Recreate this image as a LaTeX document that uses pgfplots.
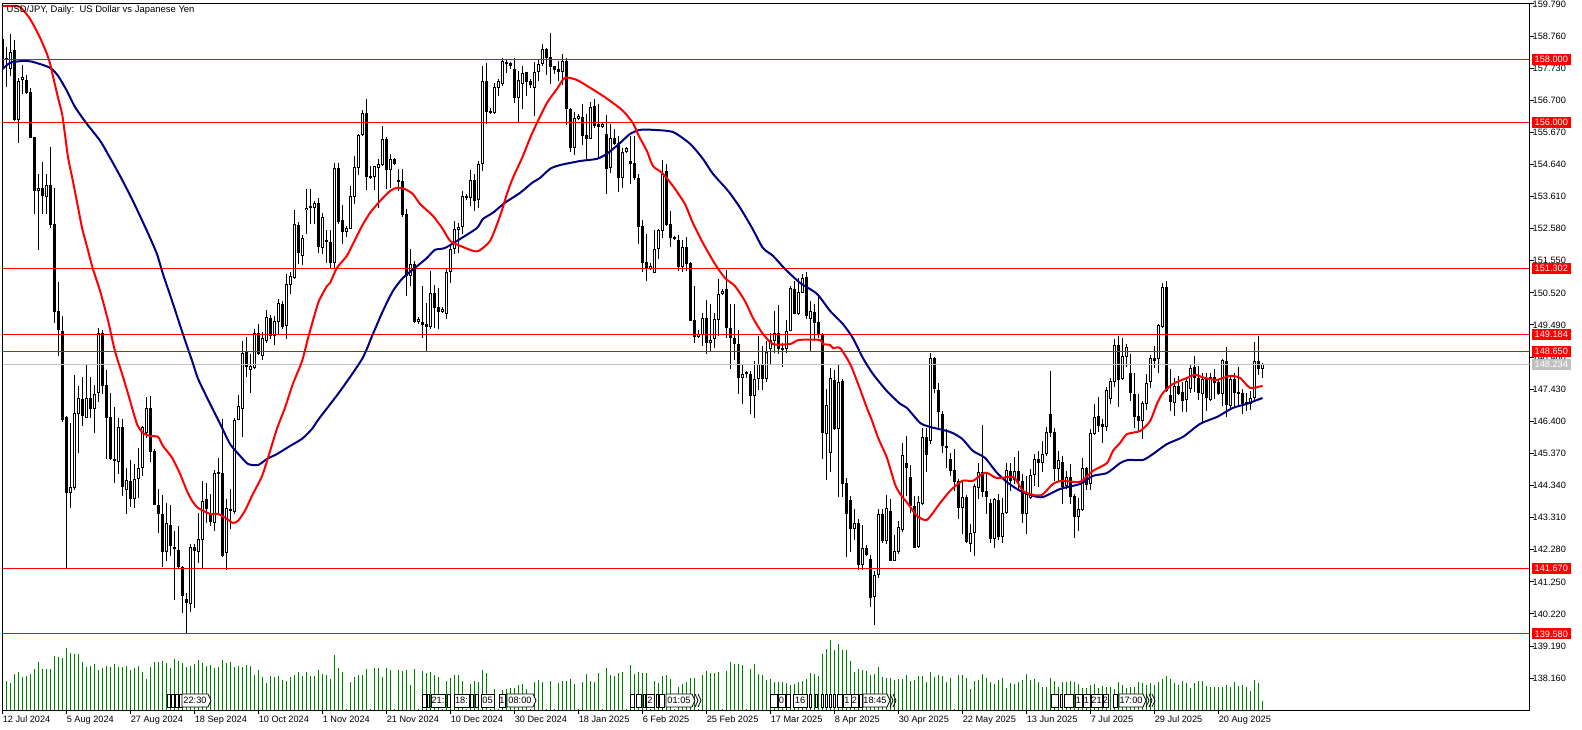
\documentclass[border=0pt]{standalone}
\usepackage{fontspec}
\setmainfont{Liberation Sans}
\usepackage{pgfplots}
\usepackage{pgfplotstable}
\pgfplotsset{compat=1.18}
\definecolor{mt}{RGB}{255,0,0}
\definecolor{mnavy}{RGB}{0,0,128}
\definecolor{mvol}{RGB}{0,128,0}
\definecolor{msilver}{RGB}{192,192,192}
\definecolor{mpink}{RGB}{255,200,200}
\newcommand\chartfont{\fontsize{6.9pt}{8pt}\selectfont}
\pgfplotstableread{
k o h l c v
0 158.67 158.73 157.64 157.70 25
1 158.06 158.41 157.13 157.99 29
2 157.70 158.83 157.48 158.25 27
3 158.31 158.63 156.04 156.07 36
4 156.07 157.42 155.33 157.32 38
5 157.35 157.83 156.90 157.45 33
6 157.35 157.51 156.90 156.93 34
7 156.97 157.10 155.49 155.49 36
8 155.52 155.52 153.05 153.79 41
9 153.79 154.34 151.90 153.89 48
10 153.89 154.72 153.05 153.63 41
11 153.60 154.34 153.05 153.98 41
12 153.98 155.20 152.60 152.70 41
13 152.73 153.89 149.56 149.91 54
14 149.94 150.87 148.50 149.33 53
15 149.30 149.78 146.38 146.44 52
16 146.54 146.57 141.66 144.10 62
17 144.10 146.35 143.62 144.29 57
18 144.26 147.89 144.20 146.67 56
19 146.64 147.54 145.39 147.15 56
20 147.12 147.82 146.25 146.57 48
21 146.51 148.21 146.51 147.15 43
22 147.15 147.82 146.51 146.80 44
23 146.80 147.57 146.03 147.28 46
24 147.31 149.40 147.02 149.24 40
25 149.24 149.33 147.28 147.54 42
26 147.57 148.05 145.19 146.51 44
27 146.54 147.31 145.16 145.19 43
28 145.19 146.86 144.42 145.13 46
29 145.10 146.51 144.71 146.22 43
30 146.22 146.48 144.01 144.29 43
31 144.20 144.90 143.43 144.52 44
32 144.49 145.16 143.65 143.91 40
33 143.91 145.03 143.62 144.55 42
34 144.55 145.55 143.94 144.90 44
35 144.90 146.25 144.65 146.22 38
36 146.03 147.18 145.87 146.83 31
37 146.83 147.21 145.10 145.42 43
38 145.45 145.51 143.72 143.72 48
39 143.72 144.23 142.82 143.43 48
40 143.43 144.04 141.73 142.21 49
41 142.21 143.78 141.92 143.14 47
42 143.08 143.72 142.08 142.40 42
43 142.37 142.88 140.67 142.31 51
44 142.27 143.04 141.70 141.73 49
45 141.73 141.76 140.25 140.80 47
46 140.70 140.89 139.58 140.57 43
47 140.54 142.47 140.29 142.37 44
48 142.37 142.47 140.41 142.24 46
49 142.21 143.46 141.86 142.63 50
50 142.60 144.49 141.70 143.85 47
51 143.91 144.42 143.14 143.59 44
52 143.46 144.07 143.04 143.17 45
53 143.14 144.84 142.88 144.75 42
54 144.78 145.23 143.43 144.71 43
55 144.75 146.48 142.05 142.08 50
56 142.18 143.91 141.63 143.62 47
57 143.59 144.23 142.95 143.53 48
58 143.49 146.51 143.43 146.44 43
59 146.44 147.25 146.44 146.89 44
60 146.80 148.98 145.90 148.59 43
61 148.66 149.11 147.82 148.15 45
62 148.05 148.56 147.31 148.18 44
63 148.11 149.36 148.08 149.24 35
64 149.24 149.52 148.53 148.56 40
65 148.50 149.27 148.37 149.08 33
66 148.98 149.97 148.91 149.75 27
67 149.72 149.81 149.04 149.14 34
68 149.14 149.78 148.85 149.62 33
69 149.59 150.33 149.20 150.20 34
70 150.17 150.26 149.36 149.43 30
71 149.46 151.13 149.04 150.81 29
72 150.78 151.19 150.49 151.06 33
73 151.00 153.18 150.97 152.73 35
74 152.70 152.80 151.45 151.80 38
75 151.71 152.38 151.42 152.28 34
76 153.18 153.85 152.41 153.25 38
77 153.25 153.85 152.73 153.31 34
78 153.25 153.47 152.73 153.41 34
79 153.41 153.57 151.80 152.00 40
80 151.96 153.09 151.77 152.96 36
81 152.22 152.54 151.48 152.15 35
82 152.15 152.54 151.29 151.48 31
83 151.48 154.69 151.29 154.53 55
84 154.53 154.69 152.73 152.80 42
85 152.86 153.34 152.09 152.48 38
86 152.48 152.67 152.32 152.60 1
87 152.57 153.95 152.57 153.63 28
88 153.60 154.91 153.37 154.56 33
89 154.53 155.62 154.30 155.59 35
90 155.59 156.39 155.56 156.29 35
91 156.29 156.74 153.82 154.24 41
92 154.27 154.59 154.18 154.21 1
93 154.24 154.59 153.82 154.59 42
94 154.53 154.82 153.25 154.66 42
95 154.62 155.88 154.59 155.46 33
96 155.46 155.52 153.85 154.46 42
97 154.46 154.98 153.89 154.82 40
98 154.82 154.85 154.62 154.66 1
99 154.14 154.50 153.79 154.08 40
100 154.11 154.50 152.96 153.02 39
101 153.05 153.21 150.42 151.06 40
102 151.06 151.93 150.74 151.45 25
103 151.45 151.55 149.56 149.59 41
104 149.59 149.75 149.52 149.69 1
105 149.59 150.74 149.08 149.49 39
106 149.52 150.20 148.63 149.43 37
107 149.43 151.22 149.36 150.52 38
108 150.52 150.77 149.40 150.04 35
109 150.07 150.68 149.36 149.91 33
110 149.91 150.07 149.88 150.00 1
111 149.85 151.32 149.69 151.19 29
112 151.19 152.09 150.84 151.93 32
113 151.93 152.83 151.77 152.57 35
114 152.54 152.76 151.80 152.64 35
115 152.64 153.79 152.41 153.63 29
116 153.63 153.70 153.50 153.57 1
117 153.57 154.46 153.31 154.14 26
118 154.14 154.34 153.15 153.47 29
119 153.50 154.75 153.25 154.66 28
120 154.66 157.80 154.43 157.32 40
121 157.32 157.90 155.94 156.33 37
122 156.36 156.45 156.26 156.29 1
123 156.29 157.26 156.26 157.13 21
124 157.10 157.38 156.84 157.32 1
125 157.22 158.06 157.16 157.96 20
126 157.93 158.03 157.58 157.86 21
127 157.90 157.93 157.70 157.80 22
128 157.70 158.06 156.61 156.77 22
129 156.77 157.64 155.97 157.35 25
130 157.22 157.80 156.42 157.58 26
131 157.61 157.61 156.84 157.29 21
132 157.32 157.38 157.10 157.19 1
133 157.10 157.93 156.20 157.61 28
134 157.61 158.03 157.32 157.86 30
135 157.86 158.51 157.80 158.35 28
136 158.35 158.38 157.51 158.06 1
137 158.09 158.86 157.22 157.77 29
138 157.80 157.80 157.54 157.67 1
139 157.70 157.96 157.32 157.61 27
140 157.61 158.19 157.19 157.96 29
141 157.96 158.06 155.91 156.42 29
142 156.42 156.45 155.04 155.17 31
143 155.17 156.32 154.95 156.13 26
144 156.10 156.26 156.07 156.20 1
145 156.17 156.58 155.27 155.56 28
146 155.59 156.26 154.82 155.46 36
147 155.46 156.65 155.46 156.49 29
148 156.52 156.74 155.81 155.88 28
149 155.94 156.58 154.85 155.84 37
150 155.84 155.97 155.81 155.94 1
151 155.62 156.23 153.69 154.50 42
152 154.53 155.94 154.37 155.49 35
153 155.49 155.78 155.27 155.30 34
154 155.33 155.56 153.76 154.21 37
155 154.21 155.17 153.89 155.04 38
156 155.04 155.20 155.01 155.17 1
157 154.75 155.56 154.02 154.66 45
158 154.69 155.56 154.14 154.21 36
159 154.21 154.34 152.09 152.64 38
160 152.67 152.86 151.19 151.48 37
161 151.51 152.41 150.90 151.29 37
162 151.29 151.48 151.26 151.39 1
163 151.16 152.54 151.16 151.93 29
164 151.93 152.57 151.61 152.54 27
165 152.51 154.79 152.28 154.34 34
166 154.43 154.66 152.67 152.70 35
167 152.73 153.15 151.99 152.28 31
168 152.31 152.35 152.22 152.25 1
169 152.22 152.38 151.22 151.35 23
170 151.35 152.22 151.19 151.99 26
171 151.99 152.31 151.22 151.45 28
172 151.48 151.51 149.62 149.62 32
173 149.65 150.74 148.91 149.11 32
174 149.11 149.33 149.08 149.20 1
175 149.17 149.88 148.82 149.72 35
176 149.72 150.29 148.56 148.91 39
177 148.91 150.17 148.63 149.01 37
178 149.04 149.88 148.75 149.69 37
179 149.65 150.97 149.14 150.49 38
180 150.49 150.65 150.45 150.58 1
181 150.65 151.26 149.08 149.40 39
182 149.40 150.17 148.08 149.08 48
183 149.08 150.17 148.37 148.88 46
184 148.88 149.33 147.28 147.79 46
185 147.79 148.24 146.96 147.92 45
186 147.92 148.02 147.79 147.98 1
187 147.92 148.02 146.64 147.21 41
188 147.21 148.34 146.51 147.76 46
189 147.76 149.14 147.40 148.24 36
190 148.21 148.82 147.41 147.76 35
191 147.76 148.98 147.66 148.63 30
192 148.72 149.24 148.24 149.01 31
193 148.98 149.94 148.59 149.24 28
194 149.24 150.13 148.56 148.72 28
195 148.69 148.91 148.15 148.75 28
196 148.72 149.65 148.59 149.30 27
197 149.30 150.74 149.30 150.68 25
198 150.65 150.90 149.85 149.85 26
199 149.85 151.00 149.81 150.55 28
200 150.52 151.13 150.52 151.00 29
201 151.03 151.19 149.69 149.78 31
202 149.69 150.26 148.66 149.94 37
203 149.91 150.17 148.98 149.56 36
204 149.59 150.49 149.08 149.17 34
205 149.20 149.24 145.19 146.03 56
206 146.00 147.44 144.52 146.93 61
207 145.39 148.11 144.78 147.79 70
208 147.73 148.05 146.12 146.16 60
209 146.16 148.24 143.97 147.66 66
210 147.70 147.76 143.97 144.39 60
211 144.42 144.58 142.05 143.43 60
212 143.88 144.01 142.21 142.95 49
213 142.95 143.59 142.60 143.14 38
214 143.14 143.27 141.63 141.79 41
215 141.79 143.08 141.63 142.34 40
216 142.34 142.43 142.08 142.11 39
217 141.99 142.11 140.45 140.73 35
218 140.77 141.60 139.87 141.47 36
219 141.47 143.59 141.38 143.43 43
220 143.43 143.59 142.50 142.56 33
221 142.56 144.04 142.46 143.62 32
222 143.53 143.91 141.92 141.92 32
223 141.92 142.75 141.92 142.24 30
224 142.21 143.20 142.15 143.01 31
225 142.92 145.71 142.85 145.32 31
226 145.06 145.93 144.02 144.90 35
227 144.62 145.00 143.46 143.69 29
228 143.69 144.01 142.34 142.34 30
229 142.37 144.01 142.34 143.81 34
230 143.75 146.19 143.72 145.90 34
231 145.90 146.19 144.78 145.32 28
232 145.77 148.59 145.67 148.43 38
233 148.43 148.46 147.31 147.44 33
234 147.41 147.63 146.16 146.70 35
235 146.64 146.73 145.39 145.61 34
236 145.61 146.16 144.90 145.55 28
237 145.19 145.39 144.65 144.81 32
238 144.84 145.51 144.17 144.46 1
239 144.49 144.55 143.27 143.62 35
240 143.62 144.49 142.79 143.97 35
241 143.97 144.04 142.50 142.53 32
242 142.46 143.11 142.21 142.82 21
243 142.82 144.39 142.08 144.33 29
244 144.26 145.06 143.91 144.78 30
245 144.78 146.29 143.97 144.13 36
246 144.17 144.75 143.43 143.97 32
247 143.78 143.91 142.50 142.63 28
248 142.63 143.94 142.34 143.91 26
249 143.88 144.07 142.59 142.69 30
250 142.69 143.94 142.50 143.46 32
251 143.46 145.06 143.43 144.84 22
252 144.81 145.06 144.17 144.49 27
253 144.52 145.26 144.39 144.81 26
254 144.81 145.45 144.17 144.49 28
255 144.49 144.71 143.14 143.43 30
256 143.43 144.65 142.79 144.07 36
257 143.94 144.87 143.91 144.68 30
258 144.68 145.35 144.33 145.19 31
259 145.19 145.45 144.29 145.06 28
260 145.06 145.77 144.78 145.35 23
261 145.35 146.22 145.29 146.06 23
262 146.64 148.02 145.90 146.03 32
263 146.06 146.19 144.49 144.87 29
264 144.87 145.45 144.49 145.16 23
265 145.10 145.29 143.75 144.29 28
266 144.32 144.81 144.23 144.62 28
267 144.62 145.03 143.75 143.97 29
268 144.01 144.07 142.66 143.33 28
269 143.33 143.94 142.88 143.59 26
270 143.56 145.23 143.52 144.90 22
271 144.90 144.94 144.20 144.36 22
272 144.39 146.16 144.20 146.03 25
273 146.00 146.96 145.96 146.54 26
274 146.57 147.18 146.06 146.25 22
275 146.32 146.48 145.71 146.22 24
276 146.22 147.50 146.09 147.41 23
277 147.12 147.79 146.96 147.70 23
278 147.66 149.04 147.50 148.85 21
279 148.85 149.14 146.86 147.73 28
280 147.76 149.08 147.73 148.50 25
281 148.47 148.88 148.15 148.79 22
282 147.95 148.56 147.05 147.31 23
283 147.28 147.95 146.19 146.54 23
284 146.57 147.28 146.09 146.41 28
285 146.41 147.05 145.84 146.99 27
286 146.96 147.92 146.76 147.63 25
287 147.66 148.53 147.47 148.43 27
288 148.43 148.82 148.11 148.34 25
289 148.40 149.52 147.95 149.49 28
290 149.43 150.84 149.39 150.71 31
291 150.71 150.90 147.34 147.37 34
292 147.25 148.08 146.73 147.02 31
293 147.00 147.79 146.57 147.54 27
294 147.54 147.85 147.25 147.28 25
295 147.34 147.66 146.70 147.05 29
296 147.09 147.79 146.70 147.70 27
297 147.44 148.21 147.31 148.11 22
298 148.15 148.50 147.34 147.79 27
299 147.79 148.18 147.09 147.31 29
300 147.28 147.95 146.35 147.76 29
301 147.76 147.95 146.73 147.15 24
302 147.09 147.95 147.05 147.82 23
303 147.82 148.08 147.12 147.63 23
304 147.66 147.76 147.25 147.28 23
305 147.28 148.40 146.89 148.37 23
306 148.34 148.79 146.54 146.93 25
307 146.89 147.82 146.80 147.76 23
308 147.76 147.95 146.86 147.31 28
309 147.34 148.15 146.89 147.28 24
310 147.31 147.44 146.64 146.96 25
311 147.02 147.31 146.73 146.96 23
312 146.96 147.37 146.76 147.15 19
313 147.15 148.95 147.05 148.34 30
314 148.34 149.14 147.89 148.08 27
315 148.08 148.27 147.79 148.24 9
}\candles
\pgfplotstableread{
k p
0 159.72
2.7 159.73
4.4 159.69
6.4 159.40
7.6 159.15
9.4 158.70
11.1 158.19
11.9 157.87
12.6 157.48
13.9 156.77
14.9 156.26
15.6 155.62
16.4 154.85
17.6 154.11
18.9 153.25
19.9 152.60
21.4 151.87
22.6 151.29
24.4 150.58
26.4 149.62
28.1 148.66
29.9 147.92
31.4 147.28
33.6 146.32
35.1 146.03
36.9 145.93
38.9 145.90
40.1 145.61
42.4 145.23
44.4 144.71
46.1 144.17
47.4 143.85
48.9 143.62
51.9 143.43
53.9 143.43
56.1 143.27
57.6 143.14
58.9 143.21
60.6 143.53
62.6 144.07
64.9 144.65
66.9 145.45
68.6 146.16
70.6 146.83
72.6 147.60
74.9 148.34
76.4 149.08
78.1 149.85
79.1 150.26
81.1 150.74
81.9 150.84
83.6 151.32
86.1 151.71
87.6 152.09
89.9 152.67
91.9 153.09
94.4 153.47
96.9 153.79
98.6 153.89
100.6 153.85
102.6 153.69
104.4 153.37
107.6 152.99
109.9 152.60
111.9 152.19
114.4 152.03
117.6 151.87
119.1 151.87
121.9 152.19
124.4 152.99
126.1 153.69
127.6 154.21
129.9 154.85
131.9 155.49
133.6 155.97
136.1 156.61
138.6 157.06
140.6 157.42
143.6 157.35
146.9 157.10
149.4 156.90
151.9 156.68
155.1 156.36
157.6 155.97
159.1 155.55
161.1 155.07
162.6 154.59
164.9 154.37
167.6 153.95
170.6 153.37
172.6 152.76
175.1 152.12
178.1 151.45
180.6 151.00
183.1 150.74
185.6 150.26
187.6 149.72
189.9 149.24
192.6 148.88
196.9 148.88
199.1 149.01
204.4 149.01
205.1 148.88
206.9 148.85
207.6 148.75
209.4 148.75
211.9 148.24
213.6 147.70
216.1 146.83
217.4 146.41
218.9 145.87
221.1 145.23
223.1 144.39
224.4 144.07
226.4 143.75
228.6 143.37
231.1 143.24
234.4 143.78
236.9 144.17
239.9 144.49
242.6 144.49
244.9 144.71
246.1 144.75
248.6 144.58
251.9 144.62
253.1 144.58
255.1 144.17
257.6 144.04
259.9 144.04
262.6 144.39
264.9 144.49
269.4 144.46
272.6 144.81
276.1 145.06
277.6 145.45
279.4 145.71
281.1 145.99
284.4 146.09
286.9 146.41
288.6 146.96
290.1 147.31
292.6 147.60
296.1 147.79
298.1 147.89
300.6 147.79
303.6 147.73
306.9 147.86
309.4 147.79
311.9 147.47
315 147.54
}\fastma
\pgfplotstableread{
k p
0 157.70
1.9 157.90
5.1 157.96
7.6 157.93
11.9 157.74
13.9 157.48
16.1 157.00
18.1 156.49
21.1 155.94
24.4 155.40
26.9 154.85
29.4 154.27
32.6 153.47
36.1 152.51
38.6 151.77
40.1 151.13
42.4 150.26
45.1 149.20
47.4 148.34
48.9 147.76
51.9 146.96
54.9 146.19
56.9 145.67
59.4 145.29
61.4 145.03
63.9 145.00
66.1 145.19
68.6 145.35
71.9 145.61
74.9 145.84
77.4 146.16
79.1 146.48
84.4 147.37
89.9 148.40
92.6 149.20
95.1 149.94
97.6 150.58
100.1 151.00
103.1 151.32
106.1 151.64
108.1 151.90
110.6 151.96
114.4 152.25
118.6 152.60
120.1 152.89
122.6 153.09
125.6 153.41
129.4 153.73
132.4 154.05
134.4 154.21
136.9 154.50
139.4 154.62
144.4 154.75
148.6 154.82
151.1 154.98
154.4 155.33
156.9 155.62
159.4 155.75
162.6 155.75
167.6 155.68
171.9 155.30
175.1 154.82
177.6 154.34
181.4 153.79
184.4 153.25
187.4 152.60
190.1 151.96
192.6 151.71
195.6 151.29
199.4 150.84
203.6 150.49
206.9 149.94
210.1 149.52
212.6 149.07
215.1 148.43
217.6 147.92
221.1 147.37
224.4 146.96
226.1 146.83
229.4 146.35
231.9 146.22
236.9 146.06
239.9 145.84
242.6 145.45
245.6 145.23
248.6 144.75
251.4 144.42
254.4 144.17
257.6 144.01
260.1 143.97
264.4 144.23
269.4 144.39
272.6 144.65
276.1 144.74
279.4 145.06
281.4 145.16
285.1 145.16
287.6 145.35
291.1 145.67
295.1 145.90
299.4 146.32
303.6 146.54
307.6 146.83
311.1 146.96
315 147.15
}\slowma
% event boxes near the bottom of the volume pane, x in reference pixels
\newcommand\ob[3]{\draw[black,fill=white,line width=0.6pt] ({#1*0.75pt},27pt) rectangle ({#2*0.75pt},17.25pt);
  \node[font=\chartfont,inner sep=0pt] at ({(#1+#2)*0.375pt},22.125pt) {#3};}
\newcommand\obp[3]{\draw[black,fill=white,line width=0.6pt] ({#1*0.75pt},27pt) -- ({#2*0.75pt},27pt) -- ({(#2+3)*0.75pt},22.125pt) -- ({#2*0.75pt},17.25pt) -- ({#1*0.75pt},17.25pt) -- cycle;
  \node[font=\chartfont,inner sep=0pt] at ({(#1+#2)*0.375pt},22.125pt) {#3};}
\newcommand\chev[1]{\draw[black,line width=0.6pt] ({#1*0.75pt},27pt) -- ({(#1+3)*0.75pt},22.125pt) -- ({#1*0.75pt},17.25pt);}
\newcommand\lev[3]{\node[fill=#2,text=white,font=\chartfont,inner sep=0pt,minimum width=29.25pt,minimum height=8.25pt] at (#1) {#3};}
\begin{document}
\begin{tikzpicture}[x=1pt,y=1pt]
\useasboundingbox (0,0) rectangle (1186.5pt,547.5pt);
% volume pane
\begin{axis}[at={(1.875pt,14.775pt)},anchor=south west,scale only axis,
  width=1145.4pt,height=530.25pt,xmin=0,xmax=381.8,ymin=0,ymax=707,hide axis,clip=true]
\addplot[ycomb,draw=mvol,line width=0.75pt,no markers] table[x=k,y=v]{\candles};
\end{axis}
% price pane
\begin{axis}[at={(1.875pt,14.775pt)},anchor=south west,scale only axis,
  width=1145.4pt,height=530.25pt,xmin=0,xmax=381.8,ymin=137.13,ymax=159.81,
  axis line style={black,line width=0.75pt},
  tick style={black,line width=0.75pt},
  tick align=outside,major tick length=3pt,
  xtick pos=bottom,ytick pos=right,yticklabel pos=right,
  xtick={0,16,32,48,64,80,96,112,128,144,160,176,192,208,224,240,256,272,288,304},
  xticklabels={12 Jul 2024,5 Aug 2024,27 Aug 2024,18 Sep 2024,10 Oct 2024,1 Nov 2024,21 Nov 2024,10 Dec 2024,30 Dec 2024,18 Jan 2025,6 Feb 2025,25 Feb 2025,17 Mar 2025,8 Apr 2025,30 Apr 2025,22 May 2025,13 Jun 2025,7 Jul 2025,29 Jul 2025,20 Aug 2025},
  xticklabel style={anchor=north west,font=\chartfont,inner sep=0pt,yshift=-1pt},
  ytick={159.79,158.76,157.73,156.70,155.67,154.64,153.61,152.58,151.55,150.52,149.49,148.46,147.43,146.40,145.37,144.34,143.31,142.28,141.25,140.22,139.19,138.16},
  yticklabel style={anchor=west,font=\chartfont,inner sep=0pt,xshift=-1pt,
    /pgf/number format/.cd,fixed,fixed zerofill,precision=3,1000 sep={},assume math mode=true},
  clip=true,clip mode=individual]
\addplot[draw=none,no markers,forget plot,error bars/.cd,y dir=plus,y explicit,error mark=none,
  error bar style={draw=black,solid,line width=0.75pt}]
  table[x=k,y=l,y error plus expr={\thisrow{h}-\thisrow{l}}]{\candles};
\addplot[draw=none,no markers,forget plot,error bars/.cd,y dir=plus,y explicit,error mark=none,
  error bar style={draw=black,solid,line width=2.25pt}]
  table[x=k,y expr={min(\thisrow{o},\thisrow{c})},y error plus expr={abs(\thisrow{c}-\thisrow{o})}]{\candles};
\addplot[draw=none,no markers,forget plot,error bars/.cd,y dir=plus,y explicit,error mark=none,
  error bar style={draw=white,solid,line width=0.75pt}]
  table[x=k,y expr={\thisrow{o}+0.032},y error plus expr={(\thisrow{c}>\thisrow{o}+0.064)?(\thisrow{c}-\thisrow{o}-0.064):0}]{\candles};
\addplot[mt,line width=0.75pt,no markers] coordinates {(0,158)(381.8,158)};
\addplot[mt,line width=0.75pt,no markers] coordinates {(0,156)(381.8,156)};
\addplot[mt,line width=0.75pt,no markers] coordinates {(0,151.302)(381.8,151.302)};
\addplot[mt,line width=0.75pt,no markers] coordinates {(0,149.184)(381.8,149.184)};
\addplot[mt,line width=0.75pt,no markers] coordinates {(0,148.65)(381.8,148.65)};
\addplot[msilver,line width=0.75pt,no markers] coordinates {(0,148.234)(381.8,148.234)};
\addplot[mt,line width=0.75pt,no markers] coordinates {(0,141.67)(381.8,141.67)};
\addplot[mt,line width=0.75pt,no markers] coordinates {(0,139.58)(381.8,139.58)};
\addplot[mnavy,line width=1.5pt,no markers,smooth,tension=0.4] table[x=k,y=p]{\slowma};
\addplot[mt,line width=1.5pt,no markers,smooth,tension=0.4] table[x=k,y=p]{\fastma};
\coordinate (a) at (axis cs:387.2,158);
\coordinate (b) at (axis cs:387.2,156);
\coordinate (c) at (axis cs:387.2,151.302);
\coordinate (d) at (axis cs:387.2,149.184);
\coordinate (e) at (axis cs:387.2,148.65);
\coordinate (f) at (axis cs:387.2,148.234);
\coordinate (g) at (axis cs:387.2,141.67);
\coordinate (h) at (axis cs:387.2,139.58);
\end{axis}
\lev{a}{mt}{158.000}
\lev{b}{mt}{156.000}
\lev{c}{mt}{151.302}
\lev{f}{msilver}{148.234}
\lev{d}{mt}{149.184}
\lev{e}{mt}{148.650}
\lev{g}{mt}{141.670}
\lev{h}{mt}{139.580}
\node[anchor=west,font=\fontsize{7.1pt}{8pt}\selectfont,inner sep=0pt] at (4.8pt,540pt) {USD/JPY, Daily:\ \ US Dollar vs Japanese Yen};
% event boxes
\ob{167}{170}{}\ob{171}{174}{}\ob{175}{178}{}\ob{179}{182}{}\obp{182}{208}{22:30}
\ob{422}{426}{}\ob{427}{429}{}\ob{431}{445}{21:}\ob{447}{450}{}\ob{454}{469}{18:}\ob{470}{473}{}\ob{475}{478}{}\ob{481}{494}{05}\ob{499}{505}{1}\obp{507}{533}{08:00}
\fill[mpink] (473pt,26.25pt) rectangle (476pt,18.25pt);
\ob{630}{634}{}\ob{636}{641}{}\ob{643}{645}{}\ob{646}{654}{2}\ob{656}{658}{}\ob{659}{664}{}\obp{666}{692}{01:05}\chev{695}\chev{698}
\ob{770}{777}{}\ob{778}{785}{0}\ob{786}{790}{}\ob{793}{807}{16}\ob{809}{811}{}\ob{815}{817}{}\ob{821}{823}{}\ob{825}{827}{}\ob{829}{831}{}\ob{833}{835}{}\ob{837}{842}{}\ob{843}{851}{1}\ob{851}{858}{2}\ob{859}{862}{}\obp{863}{887}{18:45}\chev{890}\chev{893}
\ob{1051}{1058}{}\ob{1060}{1062}{}\ob{1064}{1073}{}\ob{1075}{1082}{1}\ob{1083}{1090}{1}\ob{1091}{1102}{21}\ob{1103}{1108}{2}\ob{1113}{1117}{}\obp{1119}{1143}{17:00}\chev{1146}\chev{1149}\chev{1152}
\end{tikzpicture}
\end{document}
